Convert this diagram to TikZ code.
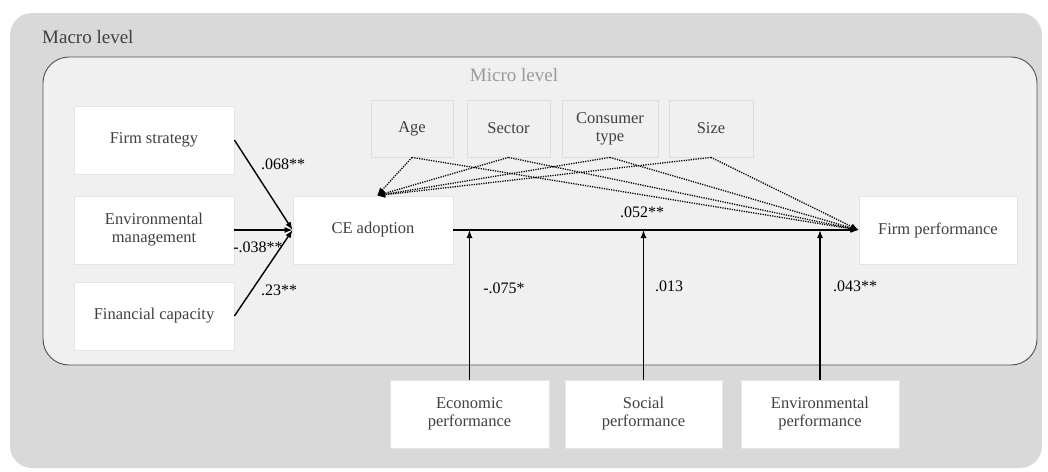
\documentclass[tikz,border=0pt]{standalone}
\usepackage{fontspec}
\setmainfont{Liberation Serif}
\usetikzlibrary{arrows.meta}
\definecolor{macrofill}{HTML}{D9D9D9}
\definecolor{microfill}{HTML}{F0F0F0}
\definecolor{microline}{HTML}{505050}
\definecolor{boxline}{HTML}{E4E4E4}
\definecolor{ctrlline}{HTML}{DCDCDC}
\definecolor{txt}{HTML}{404040}
\definecolor{microtxt}{HTML}{9A9A9A}
\tikzset{
  wbox/.style={draw=boxline, line width=0.8pt, fill=white, align=center, text=txt,
    font=\fontsize{16.5}{18}\selectfont, inner sep=0pt},
  cbox/.style={draw=ctrlline, line width=0.8pt, fill=microfill, align=center, text=txt,
    font=\fontsize{16.5}{18}\selectfont, inner sep=0pt, minimum height=57pt},
  arr/.style={line width=1.4pt, -{Latex[length=8pt,width=6pt]}},
  darr/.style={line width=1.3pt, dash pattern=on 1.2pt off 1.2pt, -{Latex[length=8pt,width=6.5pt]}},
  lbl/.style={font=\fontsize{16}{18}\selectfont, text=black, inner sep=0pt},
  lvl/.style={font=\fontsize{19}{21}\selectfont, inner sep=0pt, anchor=base west}
}
\begin{document}
\begin{tikzpicture}[x=1pt,y=-1pt]
\useasboundingbox (0,0) rectangle (1048,471);
% macro level
\fill[macrofill, rounded corners=22pt] (10,13) rectangle (1042,468);
\node[lvl, text=txt] (macrolbl) at (42,43) {Macro level};
% micro level
\draw[microline, line width=0.9pt, fill=microfill, rounded corners=26pt] (43,57) rectangle (1037,365);
\node[lvl, text=microtxt, anchor=base] (microlbl) at (514,81) {Micro level};
% nodes
\node[wbox, minimum width=160pt, minimum height=68pt] (fs) at (154,140) {Firm strategy};
\node[wbox, minimum width=160pt, minimum height=68pt] (em) at (154,230) {Environmental\\management};
\node[wbox, minimum width=160pt, minimum height=68pt] (fc) at (154,316) {Financial capacity};
\node[wbox, minimum width=160pt, minimum height=68pt] (ce) at (373,230) {CE adoption};
\node[wbox, minimum width=158pt, minimum height=68pt] (fp) at (938,230) {Firm performance};
\node[cbox, minimum width=82pt] (age) at (412,128.5) {Age};
\node[cbox, minimum width=83pt] (sector) at (508.5,128.5) {Sector};
\node[cbox, minimum width=96pt] (cons) at (610,128.5) {Consumer\\type};
\node[cbox, minimum width=84pt] (size) at (711,128.5) {Size};
\node[wbox, minimum width=159pt, minimum height=68pt] (econ) at (469.5,414) {Economic\\performance};
\node[wbox, minimum width=157pt, minimum height=68pt] (soc) at (643.5,414) {Social\\performance};
\node[wbox, minimum width=158pt, minimum height=68pt] (envp) at (820,414) {Environmental\\performance};
% dotted control paths
\foreach \c in {age,sector,cons,size}{
  \draw[darr] (\c.south) -- ([xshift=4pt]ce.north);
  \draw[darr] (\c.south) -- (fp.west);
}
% solid paths
\draw[arr] (fs.east) -- (ce.west);
\draw[arr] (em.east) -- (ce.west);
\draw[arr] (fc.east) -- (ce.west);
\draw[arr] (ce.east) -- (fp.west);
\draw[arr] (econ.north) -- (econ.north |- ce.east);
\draw[arr] (soc.north) -- (soc.north |- ce.east);
\draw[arr] (envp.north) -- (envp.north |- ce.east);
% labels
\node[lbl] (l1) at (283,164) {.068**};
\node[lbl] (l2) at (258,247) {-.038**};
\node[lbl] (l3) at (279,290) {.23**};
\node[lbl] (l4) at (642,212) {.052**};
\node[lbl] (l5) at (504,288) {-.075*};
\node[lbl] (l6) at (669,286) {.013};
\node[lbl] (l7) at (855,286) {.043**};
\end{tikzpicture}
\end{document}
